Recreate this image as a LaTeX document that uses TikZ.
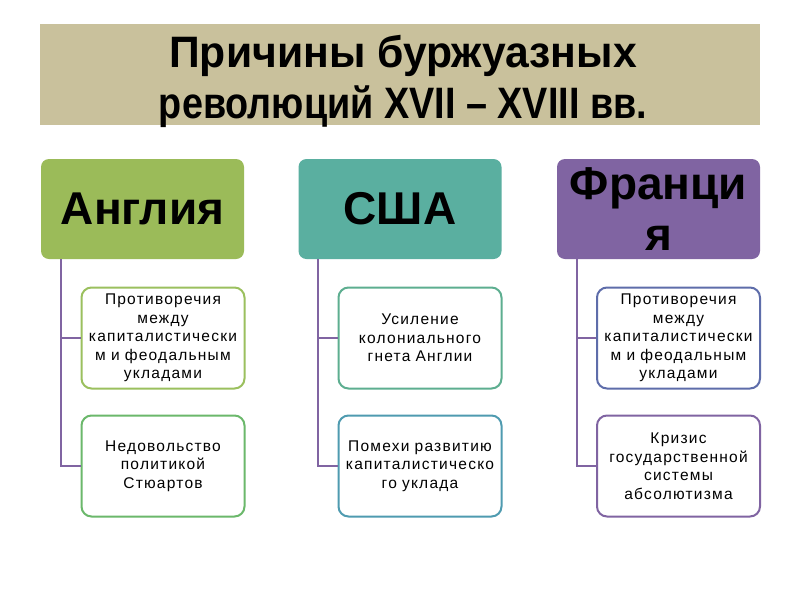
\documentclass[tikz,border=0pt]{standalone}
\usepackage{fontspec}
\setmainfont{Liberation Sans}
\newfontfamily\titlefont[FakeStretch=0.97]{Liberation Sans}
\definecolor{tan}{HTML}{C9C19C}
\definecolor{cgreen}{HTML}{9BBB59}
\definecolor{cteal}{HTML}{5AAFA0}
\definecolor{cpurple}{HTML}{8064A2}
\definecolor{bA}{HTML}{9BC05E}
\definecolor{bB}{HTML}{6BB86B}
\definecolor{bC}{HTML}{5DAE90}
\definecolor{bD}{HTML}{4F9BB0}
\definecolor{bE}{HTML}{5E6DAA}
\definecolor{bF}{HTML}{8064A2}
\begin{document}
\begin{tikzpicture}[x=1pt,y=-1pt,
  top/.style={rounded corners=8pt, minimum width=203pt, minimum height=100pt,
    inner sep=0pt, align=center, text width=200pt,
    font=\fontsize{46}{51}\selectfont\bfseries},
  child/.style={draw, line width=2pt, rounded corners=10pt, fill=white,
    minimum width=163pt, minimum height=101pt, inner sep=0pt, align=center,
    text width=160pt, text=black,
    font=\fontsize{15.5}{18.5}\selectfont\addfontfeature{LetterSpace=8}},
  conn/.style={draw=cpurple, line width=2pt}]
\useasboundingbox (0,0) rectangle (800,600);
\fill[white] (0,0) rectangle (800,600);
\fill[tan] (40,24) rectangle (760,125);
\node[align=center, font=\fontsize{44}{51}\selectfont\titlefont\bfseries] (title) at (403,81)
  {Причины буржуазных\\\scalebox{0.885}[1]{революций XVII – XVIII вв.}};

\node[top, fill=cgreen] (ang) at (142.5,209) {Англия};
\node[top, fill=cteal] (usa) at (400,209) {США};
\node[top, fill=cpurple] (fra) at (658.5,209) {Франци\\я};

\node[child, draw=bA] (a1) at (163,338) {Противоречия\\между\\капиталистически\\м и феодальным\\укладами};
\node[child, draw=bB] (a2) at (163,466) {Недовольство\\политикой\\Стюартов};
\node[child, draw=bC] (u1) at (420,338) {Усиление\\колониального\\гнета Англии};
\node[child, draw=bD] (u2) at (420,466) {Помехи развитию\\капиталистическо\\го уклада};
\node[child, draw=bE] (f1) at (678.5,338) {Противоречия\\между\\капиталистически\\м и феодальным\\укладами};
\node[child, draw=bF] (f2) at (678.5,466) {Кризис\\государственной\\системы\\абсолютизма};

\foreach \p/\c in {ang/a1, ang/a2, usa/u1, usa/u2, fra/f1, fra/f2}
  \draw[conn] ([xshift=20pt]\p.south west) |- (\c.west);
\end{tikzpicture}
\end{document}
